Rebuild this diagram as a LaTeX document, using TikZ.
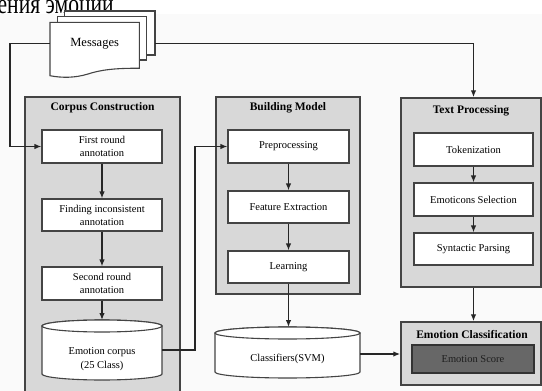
\documentclass[tikz,border=0pt]{standalone}
\usepackage{fontspec}
\setmainfont{Liberation Serif}
\usetikzlibrary{arrows.meta,calc}
\definecolor{panelgray}{HTML}{D8D8D8}
\definecolor{edgegray}{HTML}{444444}
\definecolor{scoregray}{HTML}{676767}
\definecolor{scoretext}{HTML}{1E1E1E}
\definecolor{pagetint}{HTML}{FAFAFA}
\begin{document}
\begin{tikzpicture}[x=1pt,y=-1pt,
  panel/.style={draw=edgegray, fill=panelgray, line width=1.5pt, rectangle, inner sep=0pt},
  stepbox/.style={draw=edgegray, fill=white, line width=1.1pt, rectangle, inner sep=0pt,
    align=center, font=\fontsize{10.5}{13}\selectfont},
  paneltitle/.style={font=\fontsize{11.5}{13}\selectfont\bfseries, inner sep=0pt},
  doc/.style={draw=edgegray, fill=white, line width=1.1pt},
  flow/.style={draw=black!85, line width=1.3pt, -{Latex[length=7pt,width=5.5pt]}},
]
\clip (0,0) rectangle (542,391);
\fill[pagetint] (0,14) rectangle (542,391);

% heading fragment above the figure
\node[anchor=base west, font=\fontsize{28}{32}\selectfont, inner sep=0pt, xscale=0.77] (heading) at (-2.5,13) {ения эмоций.};

% stack of message documents
\draw[doc] (64.3,11) rectangle (155,55);
\draw[doc] (57.3,16.7) rectangle (146.7,60);
\draw[doc] (50,22.3) -- (139.3,22.3) -- (139.3,68.3)
  .. controls (115,68) and (100,70) .. (88,74)
  .. controls (75,78) and (62,78) .. (50,75.7) -- cycle;
\node[inner sep=0pt, minimum width=89.3pt, minimum height=42pt,
  font=\fontsize{12.5}{14}\selectfont] (msg) at (94.65,43.3) {Messages};
\coordinate (msgR) at (155,43.3);

% panels
\node[panel, minimum width=155pt, minimum height=300pt] (corpuspanel) at (102.5,247) {};
\node[paneltitle] (corpustitle) at (102.5,108) {Corpus Construction};
\node[panel, minimum width=144pt, minimum height=197pt] (buildpanel) at (288,195.5) {};
\node[paneltitle] (buildtitle) at (288,108) {Building Model};
\node[panel, minimum width=140pt, minimum height=189pt] (textpanel) at (471,192.5) {};
\node[paneltitle] (texttitle) at (471,111) {Text Processing};
\node[panel, minimum width=140pt, minimum height=63pt] (emopanel) at (471,353.5) {};
\node[paneltitle] (emotitle) at (472,335) {Emotion Classification};

% corpus construction steps
\node[stepbox, minimum width=120pt, minimum height=33pt] (first) at (102,146.5) {First round\\annotation};
\node[stepbox, minimum width=120pt, minimum height=32pt] (finding) at (102,215) {Finding inconsistent\\annotation};
\node[stepbox, minimum width=120pt, minimum height=33pt] (second) at (102,283.5) {Second round\\annotation};

% emotion corpus cylinder
\draw[doc] (42,326) -- (42,374) arc[start angle=180,end angle=360,x radius=60pt,y radius=6pt]
  -- (162,326) arc[start angle=0,end angle=180,x radius=60pt,y radius=6pt] -- cycle;
\draw[doc] (102,326) ellipse[x radius=60pt,y radius=6pt];
\node[inner sep=0pt, minimum width=120pt, minimum height=60pt] (corpus) at (102,350) {};
\node[align=center, font=\fontsize{10.5}{14}\selectfont, inner sep=0pt] (corpuslabel) at (102,359) {Emotion corpus\\(25 Class)};
\coordinate (corpustop) at (102,320);

% building model steps
\node[stepbox, minimum width=121pt, minimum height=33pt] (pre) at (288.5,146.5) {Preprocessing};
\node[stepbox, minimum width=121pt, minimum height=32pt] (feat) at (288.5,207) {Feature Extraction};
\node[stepbox, minimum width=121pt, minimum height=32pt] (learn) at (288.5,267) {Learning};

% classifier cylinder
\draw[doc] (215,333) -- (215,372) arc[start angle=180,end angle=360,x radius=72.5pt,y radius=6pt]
  -- (360,333) arc[start angle=0,end angle=180,x radius=72.5pt,y radius=6pt] -- cycle;
\draw[doc] (287.5,333) ellipse[x radius=72.5pt,y radius=6pt];
\node[inner sep=0pt, minimum width=145pt, minimum height=50pt] (svm) at (287.5,354) {};
\node[font=\fontsize{10.5}{13}\selectfont, inner sep=0pt] (svmlabel) at (287.5,359) {Classifiers(SVM)};
\coordinate (svmtop) at (288.5,327);

% text processing steps
\node[stepbox, minimum width=119pt, minimum height=33pt] (tok) at (473.5,149.5) {Tokenization};
\node[stepbox, minimum width=119pt, minimum height=33pt] (emot) at (473.5,199.5) {Emoticons Selection};
\node[stepbox, minimum width=119pt, minimum height=32pt] (synt) at (473.5,249) {Syntactic Parsing};

% score box
\node[stepbox, draw=black!80, fill=scoregray, text=scoretext, minimum width=122pt, minimum height=28pt] (score) at (473,359) {Emotion Score};

% connectors
\coordinate (lbend) at (10,146.5);
\coordinate (jn) at (195,0);
\draw[flow] (msg.west) -| (lbend) -- (first.west);
\draw[flow] (msgR) -| (textpanel.north -| tok.center);
\draw[flow] (first) -- (finding);
\draw[flow] (finding) -- (second);
\draw[flow] (second.south) -- (corpustop);
\draw[flow] (corpus.east) -- (corpus.east -| jn) |- (pre.west);
\draw[flow] (pre) -- (feat);
\draw[flow] (feat) -- (learn);
\draw[flow] (learn.south) -- (svmtop);
\draw[flow] (svm.east) -- (svm.east -| emopanel.west);
\draw[flow] (tok) -- (emot);
\draw[flow] (emot) -- (synt);
\draw[flow] (textpanel.south -| tok.center) -- (emopanel.north -| tok.center);
\end{tikzpicture}
\end{document}
